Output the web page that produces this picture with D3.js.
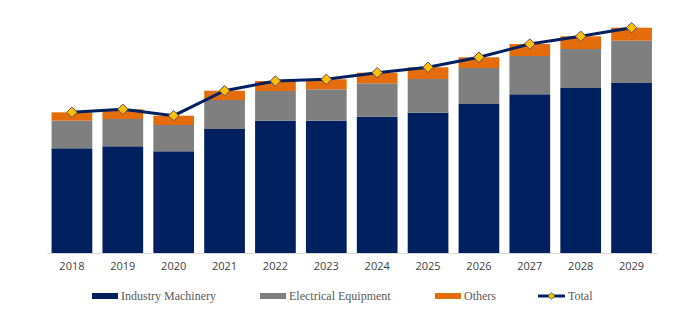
<!DOCTYPE html>
<html>
<head>
<meta charset="utf-8">
<script src="https://cdn.jsdelivr.net/npm/d3@7"></script>
<style>
  body { margin: 0; background: #fff; }
  svg { display: block; }
</style>
</head>
<body>
<svg width="681" height="322"></svg>
<script>
var years = ["2018", "2019", "2020", "2021", "2022", "2023", "2024", "2025", "2026", "2027", "2028", "2029"];
var industryMachinery = [104.7, 106.7, 101.7, 124, 132.3, 132.3, 136.3, 140.3, 149, 158.7, 165, 170];
var electricalEquipment = [27.6, 27.3, 26.3, 29, 29.7, 31.4, 33.4, 33.7, 36, 38.3, 39, 42.3];
var others = [8.4, 9.7, 9.3, 9.3, 10, 10, 10.6, 11.7, 10.7, 12, 12.7, 13];

var seriesNames = ["Industry Machinery", "Electrical Equipment", "Others"];
var colors = ["#002060", "#7f7f7f", "#e46c0a"];
var lineColor = "#002060";

var rows = years.map(function (y, i) {
  return {
    year: y,
    "Industry Machinery": industryMachinery[i],
    "Electrical Equipment": electricalEquipment[i],
    "Others": others[i]
  };
});

var svg = d3.select("svg");

var x = d3.scaleBand()
    .domain(years)
    .range([46.5, 657])
    .paddingInner(0.2)
    .paddingOuter(0.1);

var y = d3.scaleLinear()
    .domain([0, 250])
    .range([253, 3]);

var stack = d3.stack().keys(seriesNames)(rows);

svg.append("g")
  .selectAll("g")
  .data(stack)
  .enter().append("g")
    .attr("fill", function (d, i) { return colors[i]; })
  .selectAll("rect")
  .data(function (d) { return d; })
  .enter().append("rect")
    .attr("x", function (d) { return x(d.data.year); })
    .attr("width", x.bandwidth())
    .attr("y", function (d) { return y(d[1]); })
    .attr("height", function (d) { return y(d[0]) - y(d[1]); });

// baseline axis
var axis = svg.append("g")
    .attr("transform", "translate(0,253)")
    .call(d3.axisBottom(x).tickSize(0).tickPadding(9));
axis.select(".domain").attr("stroke", "#d9d9d9").attr("stroke-width", 1);
axis.selectAll("text")
    .attr("fill", "#404040")
    .style("font-family", "'Open Sans', sans-serif")
    .style("font-size", "11px");

// total line with diamond markers
var totals = rows.map(function (d) {
  return { year: d.year, value: d3.sum(seriesNames, function (k) { return d[k]; }) };
});

var line = d3.line()
    .x(function (d) { return x(d.year) + x.bandwidth() / 2; })
    .y(function (d) { return y(d.value); });

svg.append("path")
    .datum(totals)
    .attr("fill", "none")
    .attr("stroke", lineColor)
    .attr("stroke-width", 3)
    .attr("d", line);

var diamond = d3.symbol().type(d3.symbolDiamond2).size(70);

svg.append("g")
  .selectAll("path")
  .data(totals)
  .enter().append("path")
    .attr("d", diamond)
    .attr("transform", function (d) {
      return "translate(" + (x(d.year) + x.bandwidth() / 2) + "," + y(d.value) + ")";
    })
    .attr("fill", "#ffc000")
    .attr("stroke", "#5b4a6e")
    .attr("stroke-width", 1);

// legend
var legendItems = [
  { name: "Industry Machinery", x: 92, type: "rect", color: colors[0] },
  { name: "Electrical Equipment", x: 260, type: "rect", color: colors[1] },
  { name: "Others", x: 435, type: "rect", color: colors[2] },
  { name: "Total", x: 538, type: "line", color: lineColor }
];

var legend = svg.append("g").attr("transform", "translate(0,296)");

legendItems.forEach(function (item) {
  var g = legend.append("g").attr("transform", "translate(" + item.x + ",0)");
  if (item.type === "rect") {
    g.append("rect")
        .attr("x", 0).attr("y", -3)
        .attr("width", 26).attr("height", 6)
        .attr("fill", item.color);
  } else {
    g.append("line")
        .attr("x1", 0).attr("x2", 27)
        .attr("y1", 0).attr("y2", 0)
        .attr("stroke", item.color)
        .attr("stroke-width", 3);
    g.append("path")
        .attr("d", d3.symbol().type(d3.symbolDiamond2).size(30))
        .attr("transform", "translate(13.5,0)")
        .attr("fill", "#ffc000")
        .attr("stroke", "#5b4a6e")
        .attr("stroke-width", 0.8);
  }
  g.append("text")
      .attr("x", item.type === "rect" ? 29 : 30)
      .attr("y", 0)
      .attr("dy", "0.35em")
      .attr("fill", "#595959")
      .style("font-family", "'Liberation Serif', 'Times New Roman', serif")
      .style("font-size", "12px")
      .text(item.name);
});
</script>
</body>
</html>
